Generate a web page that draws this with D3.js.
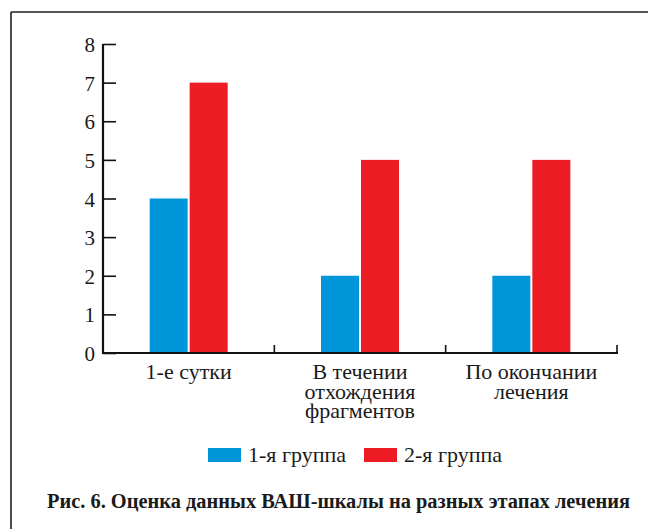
<!DOCTYPE html>
<html><head><meta charset="utf-8">
<script src="https://cdn.jsdelivr.net/npm/d3@7"></script>
<style>body{margin:0;background:#fff}svg{display:block}text{font-family:"Liberation Serif","Times New Roman",serif;fill:#1a1a1a}</style>
</head><body><svg id="c" width="648" height="529"></svg>
<script>
const categories = [["1-е сутки"], ["В течении","отхождения","фрагментов"], ["По окончании","лечения"]];
const categoryKeys = ["1-е сутки", "В течении отхождения фрагментов", "По окончании лечения"];
const seriesNames = ["1-я группа", "2-я группа"];
const group1 = [4, 2, 2];
const group2 = [7, 5, 5];
const yTicks = [0,1,2,3,4,5,6,7,8];
const colors = ["#0095d9", "#ed1c24"];
const title = "Рис. 6. Оценка данных ВАШ-шкалы на разных этапах лечения";

const svg = d3.select("#c");
// frame
svg.append("line").attr("x1",11).attr("x2",648).attr("y1",12).attr("y2",12).attr("stroke","#555").attr("stroke-width",2);
svg.append("line").attr("x1",11).attr("x2",11).attr("y1",12).attr("y2",529).attr("stroke","#111").attr("stroke-width",1.5);

const x = d3.scaleBand().domain(categoryKeys).range([103, 617]);
const y = d3.scaleLinear().domain([0, 8]).range([353, 44]);
const sub = d3.scaleBand().domain([0,1]).range([0, 78]).paddingInner(0.05);

const series = [group1, group2];
const g = svg.append("g");
series.forEach((vals, si) => {
  g.selectAll(null).data(vals).enter().append("rect")
    .attr("x", (d,i) => x(categoryKeys[i]) + x.bandwidth()/2 - 39 + sub(si))
    .attr("width", sub.bandwidth())
    .attr("y", d => y(d))
    .attr("height", d => y(0) - y(d))
    .attr("fill", colors[si]);
});

// y axis
const ya = svg.append("g").attr("transform","translate(103,0)")
  .call(d3.axisLeft(y).tickValues(yTicks).tickSize(-13).tickPadding(8).tickFormat(d3.format("d")));
ya.select(".domain").attr("stroke","#111").attr("stroke-width",2.2).attr("d","M0,44V354");
ya.selectAll(".tick line").attr("stroke","#111").attr("stroke-width",1.6);
ya.selectAll(".tick text").attr("font-size",21).attr("font-family","Liberation Serif").attr("fill","#1a1a1a").attr("dy","0.36em");

// x axis
svg.append("line").attr("x1",102).attr("x2",618).attr("y1",353).attr("y2",353).attr("stroke","#111").attr("stroke-width",2.2);
const bounds = categoryKeys.map(k => x(k) + x.bandwidth());
svg.selectAll(null).data(bounds).enter().append("line")
  .attr("x1", d => d).attr("x2", d => d).attr("y1", 353).attr("y2", 345)
  .attr("stroke","#111").attr("stroke-width",1.6);

// category labels
categories.forEach((lines, i) => {
  const cx = x(categoryKeys[i]) + x.bandwidth()/2;
  const t = svg.append("text").attr("text-anchor","middle").attr("font-size",22)
    .attr("x", cx).attr("y", 379);
  lines.forEach((ln, j) => t.append("tspan").attr("x", cx).attr("dy", j ? 19.5 : 0).text(ln));
});

// legend
const legX = [208, 364];
seriesNames.forEach((n, i) => {
  svg.append("rect").attr("x", legX[i]).attr("y", 448).attr("width", 33).attr("height", 14).attr("fill", colors[i]);
  svg.append("text").attr("x", legX[i] + 40).attr("y", 462).attr("font-size", 22).text(n);
});

// title
svg.append("text").attr("x", 338.5).attr("y", 508).attr("text-anchor","middle")
  .attr("font-size", 20.4).attr("font-weight","bold").attr("fill","#111").text(title);
</script></body></html>
